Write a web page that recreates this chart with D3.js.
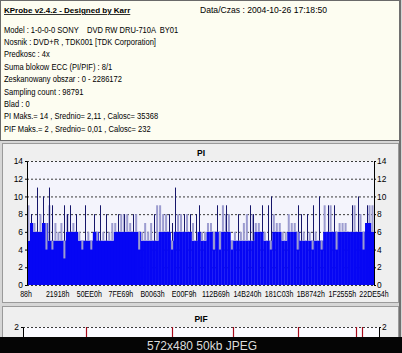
<!DOCTYPE html>
<html>
<head>
<meta charset="utf-8">
<script src="https://cdnjs.cloudflare.com/ajax/libs/d3/7.8.5/d3.min.js"></script>
<style>
  body { margin: 0; background: #fff; }
  svg { display: block; font-family: "Liberation Sans", Arial, sans-serif; }
  text { white-space: pre; }
</style>
</head>
<body>
<div id="vis"></div>
<script>
// info panel text
const headerTitle = "KProbe v2.4.2 - Designed by Karr";
const headerDate = "Data/Czas : 2004-10-26 17:18:50";
const infoLines = [
  "Model : 1-0-0-0 SONY    DVD RW DRU-710A  BY01",
  "Nosnik : DVD+R , TDK001 [TDK Corporation]",
  "Predkosc : 4x",
  "Suma blokow ECC (PI/PIF) : 8/1",
  "Zeskanowany obszar : 0 - 2286172",
  "Sampling count : 98791",
  "Blad : 0",
  "PI Maks.= 14 , Srednio= 2,11 , Calosc= 35368",
  "PIF Maks.= 2 , Srednio= 0,01 , Calosc= 232"
];

const piTicks = [0, 2, 4, 6, 8, 10, 12, 14];
const pifTicks = [2];
const lbaLabels = ["88h", "21918h", "50EE0h", "7FE69h", "B0063h", "E00F9h",
  "112B69h", "14B240h", "181C03h", "1B8742h", "1F2555h", "22DE54h"];

// PI per sample: solid blue level, light (blended) level, dark spike level
const piFill = [5,7,6,6,6,7,7,5,5,5,5,5,5,6,6,6,6,5,5,5,5,5,6,6,5,5,5,5,5,6,
  6,6,6,6,6,6,6,6,5,5,5,5,5,5,6,6,6,6,5,6,6,6,6,6,6,5,5,6,5,5,
  6,6,6,6,6,6,6,6,5,5,5,5,5,5,5,5,6,6,6,5,5,5,6,6,6,5,5,6,6,6,
  6,5,5,5,5,5,5,5,5,6,6,6,6,6,6,6,6,6,6,6,6,6,6,7,7,6];
const piLight = [9,0,7,0,8,0,4,9,4,7,6,7,3,8,0,7,0,6,4,0,6,4,0,5,0,6,0,6,7,7,
  0,8,8,8,7,0,8,4,6,7,6,7,0,9,9,8,8,0,4,0,8,8,0,8,0,7,0,0,6,6,
  7,7,4,0,4,9,8,8,4,6,0,6,7,8,0,8,7,7,0,6,0,4,8,7,7,6,6,8,7,7,
  4,0,6,0,6,4,6,0,4,9,0,9,0,4,7,7,7,0,0,9,0,8,4,0,9,9];
const piDark = [0,8,0,11,0,10,0,11,9,0,0,0,9,8,9,0,8,0,0,9,0,0,8,0,9,0,8,0,0,0,
  8,0,8,0,0,8,0,0,0,0,0,0,8,0,0,0,0,8,7,11,0,0,8,0,8,0,8,9,0,0,
  0,0,0,9,0,0,9,0,0,0,8,0,0,0,9,8,0,0,9,0,9,10,0,0,0,0,0,0,0,0,
  9,8,0,8,0,9,0,10,0,0,9,0,9,0,0,0,0,0,9,0,10,0,0,9,0,0];

// PIF spikes (sample index, value)
const pifSamples = [20, 48, 68, 89, 108, 110];
const pifValues = [2, 2, 2, 2, 2, 2];

const W = 402, H = 353;
const squeeze = 0.86; // tahoma-like narrow text
const svg = d3.select("#vis").append("svg").attr("width", W).attr("height", H);

// backgrounds / panels
svg.append("rect").attr("width", W).attr("height", H).attr("fill", "#d6d6d6");

svg.append("rect").attr("x", 0.5).attr("y", 0.5).attr("width", 399).attr("height", 140)
  .attr("fill", "#fdfdf1").attr("stroke", "#6a6a6a");

svg.append("rect").attr("x", 2.5).attr("y", 143.5).attr("width", 396).attr("height", 159)
  .attr("fill", "#efefef").attr("stroke", "#9a9a9a");
svg.append("rect").attr("x", 2.5).attr("y", 306.5).attr("width", 396).attr("height", 60)
  .attr("fill", "#efefef").attr("stroke", "#9a9a9a");
svg.append("line").attr("x1", 400).attr("x2", 400).attr("y1", 0).attr("y2", H)
  .attr("stroke", "#707070").attr("stroke-width", 2);

// info text
const info = svg.append("g").attr("font-size", 8.8).attr("fill", "#000");
info.append("text").attr("x", 4).attr("y", 13).text(headerTitle)
  .attr("font-size", 8).attr("font-weight", "bold").attr("text-decoration", "underline");
info.append("text").attr("x", 200).attr("y", 13).attr("font-size", 8.6).text(headerDate);
info.selectAll(".line").data(infoLines).join("text").attr("class", "line")
  .attr("transform", (d, i) => `translate(4,${32.5 + i * 12.4}) scale(${squeeze},1)`)
  .text(d => d);

// ---- PI chart ----
const N = piFill.length;
const x = d3.scaleLinear().domain([-0.5, N - 0.5]).range([27, 374]);
const y = d3.scaleLinear().domain([0, 14]).range([285, 161]);

svg.append("rect").attr("x", x.range()[0]).attr("y", y(14))
  .attr("width", x.range()[1] - x.range()[0]).attr("height", y(0) - y(14))
  .attr("fill", "#f4f4fc");

svg.append("g").selectAll("line").data(piTicks).join("line")
  .attr("x1", x.range()[0]).attr("x2", x.range()[1])
  .attr("y1", d => y(d) + 0.5).attr("y2", d => y(d) + 0.5)
  .attr("stroke", "#3a3a3a").attr("stroke-dasharray", "2,2");

const bars = svg.append("g");
bars.selectAll("rect").data(piFill).join("rect")
  .attr("x", (d, i) => x(i - 0.5))
  .attr("width", (d, i) => x(i + 0.5) - x(i - 0.5) + 0.3)
  .attr("y", d => y(d))
  .attr("height", d => y(0) - y(d))
  .attr("fill", "#0606f4");

const lightData = piLight.map((v, i) => ({ i, v, f: piFill[i] })).filter(d => d.v > 0);
bars.selectAll(".light").data(lightData).join("rect").attr("class", "light")
  .attr("x", d => x(d.i) - 1)
  .attr("width", 2)
  .attr("y", d => y(Math.max(d.v, d.f)))
  .attr("height", d => Math.abs(y(d.v) - y(d.f)))
  .attr("fill", "#9c9cd0");

const darkData = piDark.map((v, i) => ({ i, v, f: piFill[i] })).filter(d => d.v > 0);
bars.selectAll(".dark").data(darkData).join("line").attr("class", "dark")
  .attr("x1", d => Math.round(x(d.i)) + 0.5).attr("x2", d => Math.round(x(d.i)) + 0.5)
  .attr("y1", d => y(d.v)).attr("y2", d => y(d.f))
  .attr("stroke", "#16166a").attr("stroke-width", 1);

function styleAxis(g) {
  g.select(".domain").attr("stroke", "#000");
  g.selectAll(".tick line").attr("stroke", "#000");
  g.selectAll("text").attr("fill", "#000").attr("font-size", 8.4)
    .attr("font-family", "Liberation Sans, Arial, sans-serif");
}

svg.append("g").attr("transform", `translate(${x.range()[0]},0)`)
  .call(d3.axisLeft(y).tickValues(piTicks).tickSize(2).tickSizeOuter(0).tickPadding(2))
  .call(styleAxis);
svg.append("g").attr("transform", `translate(${x.range()[1]},0)`)
  .call(d3.axisRight(y).tickValues(piTicks).tickSize(2).tickSizeOuter(0).tickPadding(1))
  .call(styleAxis);

const xl = d3.scalePoint().domain(lbaLabels).range([26, 374]);
svg.append("g").selectAll("text").data(lbaLabels).join("text")
  .attr("transform", d => `translate(${xl(d)},297) scale(${squeeze},1)`)
  .attr("text-anchor", "middle").attr("font-size", 8.2).attr("fill", "#000")
  .text(d => d);

svg.append("text").attr("x", 201).attr("y", 156).attr("text-anchor", "middle")
  .attr("font-size", 8.5).attr("font-weight", "bold").text("PI");

// ---- PIF chart ----
const x2 = d3.scaleLinear().domain([-0.5, N - 0.5]).range([23, 379]);
const y2 = d3.scaleLinear().domain([0, 2]).range([451, 327]);

svg.append("rect").attr("x", 23).attr("y", y2(2))
  .attr("width", 356).attr("height", y2(0) - y2(2)).attr("fill", "#fbfbff");
svg.append("line").attr("x1", 23).attr("x2", 379)
  .attr("y1", y2(2) + 0.5).attr("y2", y2(2) + 0.5)
  .attr("stroke", "#3a3a3a").attr("stroke-dasharray", "2,2");

svg.append("g").selectAll("line").data(pifSamples).join("line")
  .attr("x1", d => Math.round(x2(d)) + 0.5).attr("x2", d => Math.round(x2(d)) + 0.5)
  .attr("y1", (d, i) => y2(pifValues[i])).attr("y2", y2(0))
  .attr("stroke", "#a80c1c").attr("stroke-width", 1.2);

svg.append("g").attr("transform", "translate(23,0)")
  .call(d3.axisLeft(y2).tickValues(pifTicks).tickFormat(d3.format("d"))
    .tickSize(2).tickSizeOuter(0).tickPadding(2))
  .call(styleAxis);
svg.append("g").attr("transform", "translate(379,0)")
  .call(d3.axisRight(y2).tickValues(pifTicks).tickFormat(d3.format("d"))
    .tickSize(2).tickSizeOuter(0).tickPadding(1))
  .call(styleAxis);

svg.append("text").attr("x", 201).attr("y", 322).attr("text-anchor", "middle")
  .attr("font-size", 8.5).attr("font-weight", "bold").text("PIF");

// caption bar
svg.append("rect").attr("x", 0).attr("y", 337).attr("width", W).attr("height", H - 337)
  .attr("fill", "#050505");
svg.append("text").attr("x", 202).attr("y", 349.5).attr("text-anchor", "middle")
  .attr("font-size", 12).attr("fill", "#dcdcdc").text("572x480 50kb JPEG");
</script>
</body>
</html>
